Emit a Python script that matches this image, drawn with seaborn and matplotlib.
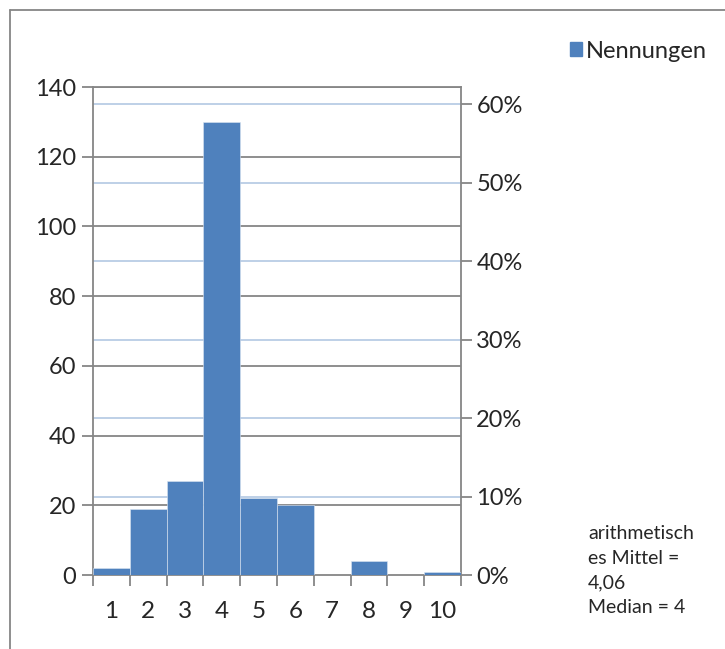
import seaborn as sns
import pandas as pd
import numpy as np
import matplotlib
matplotlib.use("Agg")
from matplotlib import pyplot as plt
from matplotlib.ticker import PercentFormatter, FixedLocator
from matplotlib.lines import Line2D

# Daten
kategorien = ["1", "2", "3", "4", "5", "6", "7", "8", "9", "10"]
nennungen = [2, 19, 27, 130, 22, 20, 0, 4, 0, 1]
prozent_ticks = [0, 10, 20, 30, 40, 50, 60]
anzahl_ticks = [0, 20, 40, 60, 80, 100, 120, 140]
legende = "Nennungen"
notiz = "arithmetisch\nes Mittel =\n4,06\nMedian = 4"

df = pd.DataFrame({"kategorie": kategorien, "nennungen": nennungen})
gesamt = sum(nennungen)

sns.set_style("white")
plt.rcParams["font.family"] = ["Lato", "DejaVu Sans"]

blau = "#4F81BD"
grau = "#868686"
hellblau = "#B9CDE5"

fig = plt.figure(figsize=(7.25, 6.49), dpi=100)
ax = fig.add_axes([93 / 725, 74 / 649, 368 / 725, 488 / 649])

sns.barplot(data=df, x="kategorie", y="nennungen", color=blau, width=1.0,
            saturation=1, edgecolor="#dbe5f1", linewidth=0.4, ax=ax, zorder=3)

ax.set_xlim(-0.5, 9.5)
ax.set_ylim(0, 140)
ax.set_yticks(anzahl_ticks)

# Gitterlinien hinter den Balken
for t in anzahl_ticks[1:]:
    ax.axhline(t, color=grau, lw=1.3, zorder=1)
for p in prozent_ticks[1:]:
    ax.axhline(p / 100 * gesamt, color=hellblau, lw=1.3, zorder=1)

for s in ["left", "right", "bottom", "top"]:
    ax.spines[s].set_color(grau)
    ax.spines[s].set_linewidth(1.3)

ax.set_xlabel("")
ax.set_ylabel("")
ax.tick_params(axis="y", which="major", length=8, width=1.3, color=grau,
               labelsize=17, pad=4, direction="out", left=True)
ax.tick_params(axis="x", which="major", length=0, labelsize=17.5, pad=19)
ax.xaxis.set_minor_locator(FixedLocator(np.arange(-0.5, 10, 1)))
ax.tick_params(axis="x", which="minor", length=8, width=1.3, color=grau,
               direction="out", bottom=True)

ax2 = ax.twinx()
ax2.set_ylim(0, 140 / gesamt * 100)
ax2.set_yticks(prozent_ticks)
ax2.yaxis.set_major_formatter(PercentFormatter(decimals=0))
ax2.tick_params(axis="y", length=8, width=1.3, color=grau, labelsize=17,
                pad=3, direction="out", right=True)
for s in ax2.spines.values():
    s.set_visible(False)

# Legende
fig.legend(handles=[plt.Rectangle((0, 0), 1, 1, color=blau)], labels=[legende],
           loc="center left", bbox_to_anchor=(561 / 725, 1 - 51 / 649),
           frameon=False, fontsize=17, handlelength=0.5, handleheight=0.5,
           handletextpad=0.15, borderaxespad=0)

fig.text(588 / 725, 1 - 525 / 649, notiz, fontsize=14, va="top", ha="left",
         linespacing=1.55)

# Rahmen
fig.add_artist(Line2D([10 / 725, 10 / 725], [0, 1 - 10 / 649], color=grau, lw=1.3))
fig.add_artist(Line2D([10 / 725, 1], [1 - 10 / 649, 1 - 10 / 649], color=grau, lw=1.3))

fig.savefig("out.png", dpi=100)
